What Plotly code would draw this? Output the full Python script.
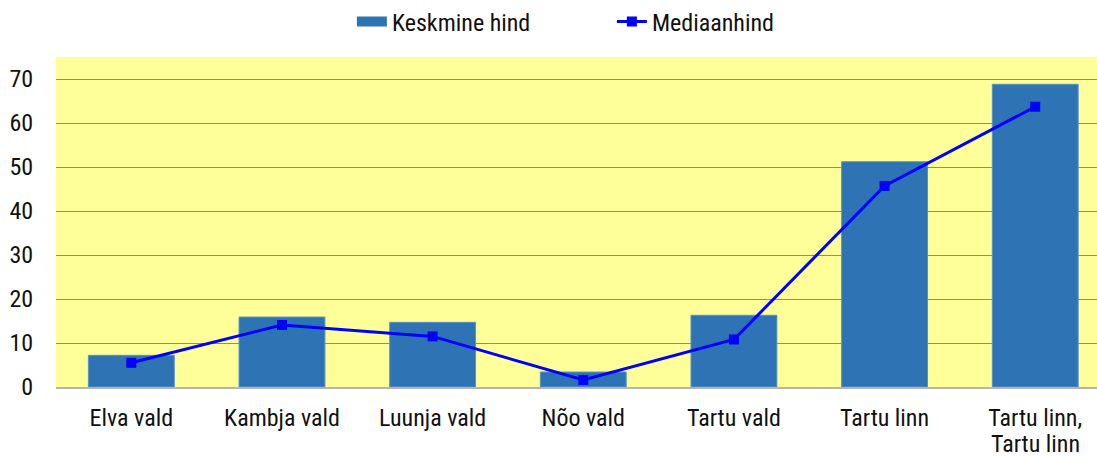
import plotly.graph_objects as go

categories = ["Elva vald", "Kambja vald", "Luunja vald", "Nõo vald",
              "Tartu vald", "Tartu linn", "Tartu linn,<br>Tartu linn"]
keskmine_hind = [7.2, 15.9, 14.7, 3.4, 16.3, 51.2, 68.8]
mediaanhind = [5.5, 14.1, 11.5, 1.6, 10.8, 45.7, 63.7]
y_ticks = [0, 10, 20, 30, 40, 50, 60, 70]

FONT = "Roboto Condensed, Liberation Sans Narrow, DejaVu Sans Condensed, Roboto, sans-serif"
BAR_COLOR = "#2E74B5"

xs = list(range(len(categories)))
# first line of each label goes on the axis; extra lines are set as annotations
# so that their line spacing matches the reference
first_lines = [c.split("<br>")[0] for c in categories]
extra_lines = [(i, c.split("<br>")[1:]) for i, c in enumerate(categories) if "<br>" in c]

fig = go.Figure()
fig.add_trace(go.Bar(
    x=xs, y=keskmine_hind, name="Keskmine hind", showlegend=False,
    marker=dict(color=BAR_COLOR, line=dict(color="#5B8FC7", width=1)),
))
# legend-only entry giving a wide rectangular swatch for the bars
fig.add_trace(go.Scatter(
    x=[None], y=[None], name="Keskmine hind", mode="lines",
    line=dict(color=BAR_COLOR, width=13),
))
fig.add_trace(go.Scatter(
    x=xs, y=mediaanhind, name="Mediaanhind",
    mode="lines+markers",
    line=dict(color="#0000FF", width=3),
    marker=dict(symbol="square", size=10, color="#0000FF"),
))

for i, lines in extra_lines:
    for k, txt in enumerate(lines):
        fig.add_annotation(
            x=i, xref="x", y=0, yref="paper", yanchor="middle",
            yshift=-57 - 27 * k, text=txt, showarrow=False,
            font=dict(size=24, family=FONT, color="#111111"),
            borderpad=0,
        )

fig.update_layout(
    width=1097, height=457,
    margin=dict(l=56, r=0, t=57, b=70, autoexpand=False),
    paper_bgcolor="white",
    plot_bgcolor="#FFFF99",
    font=dict(family=FONT, size=24, color="#111111"),
    bargap=0.43,
    showlegend=True,
    legend=dict(orientation="h", x=0.534, xanchor="center", y=1.106, yanchor="middle",
                font=dict(size=24), entrywidth=215, traceorder="normal"),
    xaxis=dict(
        tickmode="array", tickvals=xs, ticktext=first_lines,
        range=[-0.5, 6.41], showgrid=False, showline=True, linecolor="#B4B4B4",
        linewidth=2, ticks="outside", ticklen=8, tickcolor="rgba(0,0,0,0)",
        zeroline=False, automargin=False,
    ),
    yaxis=dict(
        range=[0, 75], tickvals=y_ticks, showgrid=True, gridcolor="#8C8C8C",
        gridwidth=1, zeroline=False, showline=False,
        ticks="outside", ticklen=17, tickcolor="rgba(0,0,0,0)", automargin=False,
    ),
)

fig.write_html(
    "out.html",
    config={"displayModeBar": False},
    post_script="document.body.style.margin='0';document.body.style.overflow='hidden';",
)
